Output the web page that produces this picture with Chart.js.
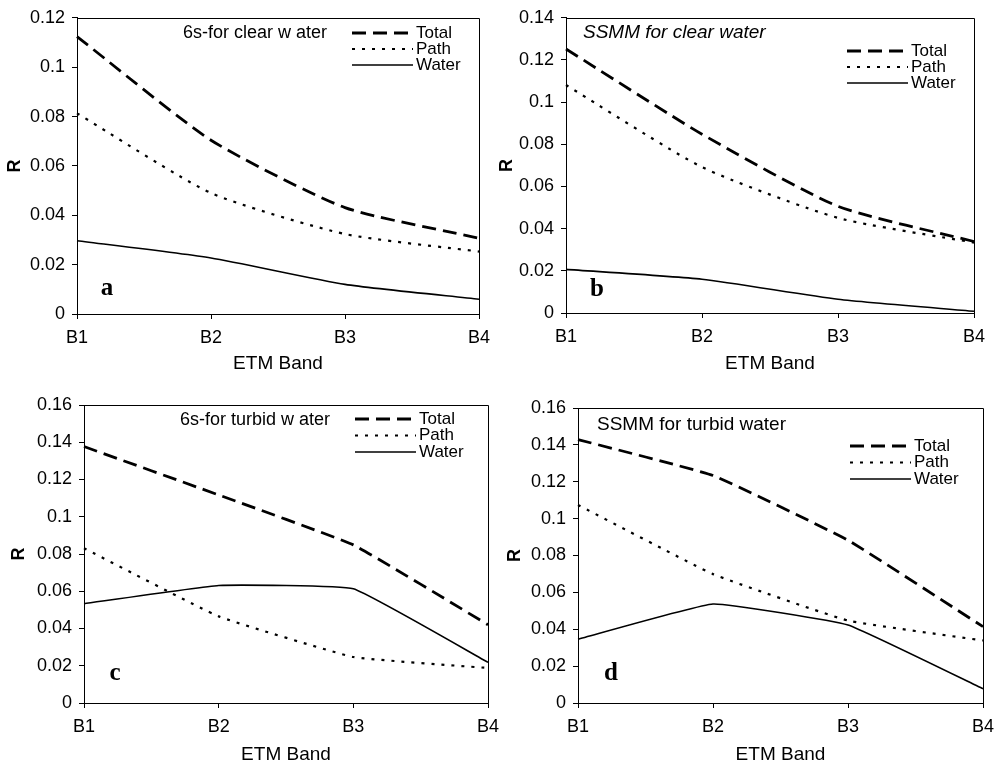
<!DOCTYPE html>
<html><head><meta charset="utf-8">
<script src="https://cdn.jsdelivr.net/npm/chart.js@4.4.1/dist/chart.umd.min.js"></script>
<style>
html,body{margin:0;padding:0;background:#fff;}
#wrap{position:relative;width:996px;height:768px;overflow:hidden;background:#fff;}
canvas{position:absolute;}
</style></head><body>
<div id="wrap">
<canvas id="ca" width="510" height="384" style="left:0px;top:0px"></canvas>
<canvas id="cb" width="510" height="384" style="left:498px;top:0px"></canvas>
<canvas id="cc" width="510" height="384" style="left:0px;top:384px"></canvas>
<canvas id="cd" width="510" height="384" style="left:498px;top:384px"></canvas>
</div>
<script>
// ---- data ----
const bands = ['B1', 'B2', 'B3', 'B4'];
const seriesNames = ['Total', 'Path', 'Water'];

// a: 6s - clear water
const clear6sTotal = [0.1124, 0.0704, 0.0431, 0.0307];
const clear6sPath  = [0.0813, 0.0490, 0.0324, 0.0253];
const clear6sWater = [0.0297, 0.0227, 0.0120, 0.0060];
// b: SSMM - clear water
const clearSsmmTotal = [0.1252, 0.0848, 0.0506, 0.0339];
const clearSsmmPath  = [0.1081, 0.0692, 0.0451, 0.0334];
const clearSsmmWater = [0.0207, 0.0160, 0.0065, 0.0008];
// c: 6s - turbid water
const turbid6sTotal = [0.1377, 0.1117, 0.0849, 0.0420];
const turbid6sPath  = [0.0831, 0.0465, 0.0247, 0.0188];
const turbid6sWater = [0.0533, 0.0631, 0.0613, 0.0218];
// d: SSMM - turbid water
const turbidSsmmTotal = [0.1429, 0.1234, 0.0883, 0.0414];
const turbidSsmmPath  = [0.1074, 0.0699, 0.0447, 0.0339];
const turbidSsmmWater = [0.0346, 0.0537, 0.0423, 0.0077];

// axis tick settings
const yMaxA = 0.12, yMaxB = 0.14, yMaxC = 0.16, yMaxD = 0.16;
const yStep = 0.02;
const xTitle = 'ETM Band';
const yTitle = 'R';

// ---- styling / layout ----
const FONT = "'Liberation Sans', Arial, Helvetica, sans-serif";
const SERIF = "'Liberation Serif', 'Times New Roman', serif";
const lineStyles = [
  { borderWidth: 2.8, borderDash: [14, 7] },
  { borderWidth: 2.2, borderDash: [3, 7] },
  { borderWidth: 1.6, borderDash: [] }
];

const deco = {
  id: 'deco',
  afterDatasetsDraw(chart, args, o) {
    const ctx = chart.ctx, a = chart.chartArea;
    ctx.save();
    ctx.strokeStyle = '#000';
    ctx.lineWidth = 1;
    ctx.setLineDash([]);
    ctx.beginPath();
    ctx.moveTo(a.left, Math.round(a.top) + 0.5);
    ctx.lineTo(Math.round(a.right) + 0.5, Math.round(a.top) + 0.5);
    ctx.lineTo(Math.round(a.right) + 0.5, a.bottom);
    ctx.stroke();

    ctx.fillStyle = '#000';
    ctx.textAlign = 'left';
    ctx.textBaseline = 'middle';
    ctx.font = (o.italic ? 'italic ' : '') + o.titleSize + 'px ' + FONT;
    ctx.fillText(o.title, o.titleX, o.titleY);

    chart.data.datasets.forEach((ds, i) => {
      const y = o.legY + i * o.legGap;
      ctx.strokeStyle = '#000';
      ctx.lineWidth = ds.borderWidth;
      ctx.setLineDash(ds.borderDash || []);
      ctx.beginPath();
      ctx.moveTo(o.legX, y);
      ctx.lineTo(o.legX + o.legLen, y);
      ctx.stroke();
      ctx.setLineDash([]);
      ctx.font = o.legSize + 'px ' + FONT;
      ctx.fillText(ds.label, o.legX + o.legLen + 3, y);
    });

    ctx.font = 'bold 25px ' + SERIF;
    ctx.textAlign = 'center';
    ctx.fillText(o.letter, o.letterX, o.letterY);
    ctx.restore();
  }
};

function makeChart(id, series, yMax, L, D) {
  const datasets = series.map((vals, i) => ({
    label: seriesNames[i],
    data: vals,
    borderColor: '#000',
    backgroundColor: '#000',
    borderWidth: lineStyles[i].borderWidth,
    borderDash: lineStyles[i].borderDash,
    borderCapStyle: 'butt',
    pointRadius: 0,
    tension: L.tension,
    fill: false
  }));
  return new Chart(document.getElementById(id), {
    type: 'line',
    data: { labels: bands, datasets },
    options: {
      responsive: false,
      animation: false,
      events: [],
      layout: { padding: { top: L.top, right: L.right, left: 0, bottom: 0 } },
      plugins: { legend: { display: false }, tooltip: { enabled: false }, deco: D },
      scales: {
        x: {
          type: 'category',
          offset: false,
          grid: { display: true, drawOnChartArea: false, drawTicks: true, tickLength: 5, color: '#000', lineWidth: 1 },
          border: { display: true, color: '#000', width: 1 },
          ticks: { color: '#000', font: { family: FONT, size: 18 }, padding: 8, maxRotation: 0, autoSkip: false },
          title: { display: true, text: xTitle, color: '#000', font: { family: FONT, size: 19 }, padding: { top: 0, bottom: L.xTitlePad } },
          afterFit(s) { s.height = L.xH; }
        },
        y: {
          min: 0, max: yMax,
          grid: { display: true, drawOnChartArea: false, drawTicks: true, tickLength: 5, color: '#000', lineWidth: 1 },
          border: { display: true, color: '#000', width: 1 },
          ticks: { stepSize: yStep, color: '#000', font: { family: FONT, size: 18 }, padding: 7,
                   callback: v => String(Math.round(v * 100) / 100) },
          title: { display: true, text: yTitle, color: '#000', font: { family: FONT, size: 18, weight: 'bold' }, padding: { top: L.yTitlePad, bottom: 0 } },
          afterFit(s) { s.width = L.yW; }
        }
      }
    },
    plugins: [deco]
  });
}

makeChart('ca', [clear6sTotal, clear6sPath, clear6sWater], yMaxA,
  { top: 16, right: 31, xH: 70, yW: 77, xTitlePad: 9, yTitlePad: 4, tension: 0.2 },
  { title: '6s-for clear w ater', italic: false, titleSize: 18, titleX: 183, titleY: 33,
    legX: 352, legY: 33, legGap: 16, legLen: 61, legSize: 17, letter: 'a', letterX: 107, letterY: 289 });

makeChart('cb', [clearSsmmTotal, clearSsmmPath, clearSsmmWater], yMaxB,
  { top: 15, right: 34, xH: 71, yW: 68, xTitlePad: 9, yTitlePad: -2, tension: 0.2 },
  { title: 'SSMM for clear water', italic: true, titleSize: 19, titleX: 85, titleY: 33,
    legX: 349, legY: 51, legGap: 16, legLen: 61, legSize: 17, letter: 'b', letterX: 99, letterY: 290 });

makeChart('cc', [turbid6sTotal, turbid6sPath, turbid6sWater], yMaxC,
  { top: 21, right: 22, xH: 65, yW: 84, xTitlePad: 2, yTitlePad: 8, tension: 0.1 },
  { title: '6s-for turbid w ater', italic: false, titleSize: 18, titleX: 180, titleY: 36,
    legX: 355, legY: 35, legGap: 16.5, legLen: 61, legSize: 17, letter: 'c', letterX: 115, letterY: 290 });

makeChart('cd', [turbidSsmmTotal, turbidSsmmPath, turbidSsmmWater], yMaxD,
  { top: 24, right: 25, xH: 65, yW: 80, xTitlePad: 2, yTitlePad: 6, tension: 0.1 },
  { title: 'SSMM for turbid water', italic: false, titleSize: 19, titleX: 99, titleY: 41,
    legX: 352, legY: 62, legGap: 16.5, legLen: 61, legSize: 17, letter: 'd', letterX: 113, letterY: 290 });
</script>
</body></html>
